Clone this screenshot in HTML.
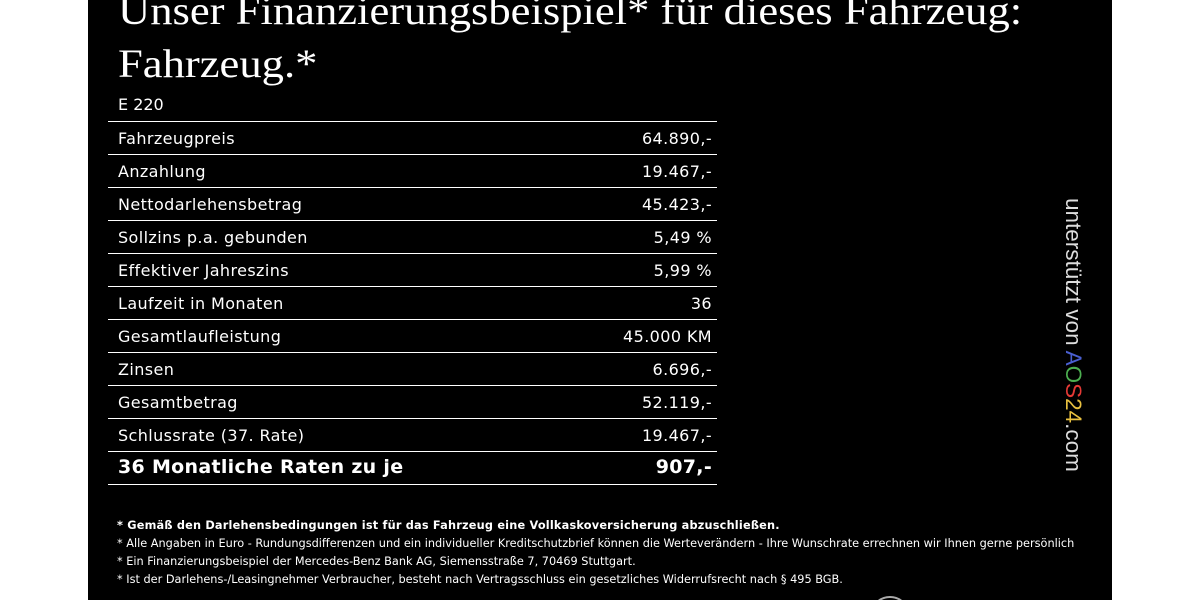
<!DOCTYPE html>
<html><head><meta charset="utf-8"><style>
html,body{margin:0;padding:0;width:1200px;height:600px;overflow:hidden;background:#fff;}
#p{position:absolute;left:88px;top:0;width:1024px;height:600px;background:#000;color:#fff;overflow:hidden;}
.t{position:absolute;left:30px;font-family:"Liberation Serif","DejaVu Serif",serif;font-size:40px;white-space:nowrap;line-height:1;transform-origin:0 0;transform:scaleX(1.115);}
.row{position:absolute;left:20px;width:609px;height:33px;border-top:1px solid #fff;font-family:"DejaVu Sans",sans-serif;font-size:16px;letter-spacing:0.4px;}
.row span{position:absolute;top:7px;left:10px;}
.row b{position:absolute;top:7px;right:5px;font-weight:normal;}
.bold{font-weight:bold;font-size:19px;letter-spacing:0.3px;border-bottom:1px solid #fff;}
.bold span,.bold b{font-weight:bold;top:4px;}
.fn{position:absolute;left:29px;font-family:"DejaVu Sans",sans-serif;font-size:11.3px;white-space:nowrap;}
#v{position:absolute;left:998px;top:198px;transform-origin:0 0;transform:rotate(90deg);font-family:"Liberation Sans",sans-serif;font-size:22.5px;white-space:nowrap;color:#ddd;}
</style></head><body><div id="p">
<div class="t" style="top:-9px">Unser Finanzierungsbeispiel* für dieses Fahrzeug:</div>
<div class="t" style="top:44px">Fahrzeug.*</div>
<div style="position:absolute;left:30px;top:95px;font-family:'DejaVu Sans',sans-serif;font-size:16px;">E 220</div>
<div class="row" style="top:121px"><span>Fahrzeugpreis</span><b>64.890,-</b></div>
<div class="row" style="top:154px"><span>Anzahlung</span><b>19.467,-</b></div>
<div class="row" style="top:187px"><span>Nettodarlehensbetrag</span><b>45.423,-</b></div>
<div class="row" style="top:220px"><span>Sollzins p.a. gebunden</span><b>5,49 %</b></div>
<div class="row" style="top:253px"><span>Effektiver Jahreszins</span><b>5,99 %</b></div>
<div class="row" style="top:286px"><span>Laufzeit in Monaten</span><b>36</b></div>
<div class="row" style="top:319px"><span>Gesamtlaufleistung</span><b>45.000 KM</b></div>
<div class="row" style="top:352px"><span>Zinsen</span><b>6.696,-</b></div>
<div class="row" style="top:385px"><span>Gesamtbetrag</span><b>52.119,-</b></div>
<div class="row" style="top:418px"><span>Schlussrate (37. Rate)</span><b>19.467,-</b></div>
<div class="row bold" style="top:451px;height:32px"><span>36 Monatliche Raten zu je</span><b>907,-</b></div>
<div class="fn" style="top:519px;font-weight:bold;font-size:11.3px;letter-spacing:0.2px">* Gemäß den Darlehensbedingungen ist für das Fahrzeug eine Vollkaskoversicherung abzuschließen.</div>
<div class="fn" style="top:537px">* Alle Angaben in Euro - Rundungsdifferenzen und ein individueller Kreditschutzbrief können die Werteverändern - Ihre Wunschrate errechnen wir Ihnen gerne persönlich</div>
<div class="fn" style="top:555px">* Ein Finanzierungsbeispiel der Mercedes-Benz Bank AG, Siemensstraße 7, 70469 Stuttgart.</div>
<div class="fn" style="top:573px">* Ist der Darlehens-/Leasingnehmer Verbraucher, besteht nach Vertragsschluss ein gesetzliches Widerrufsrecht nach § 495 BGB.</div>
<div id="v">unterstützt von <span style="color:#4a5fd0">A</span><span style="color:#4caf50">O</span><span style="color:#e53935">S</span><span style="color:#e8c040">24</span>.com</div>
<div style="position:absolute;left:782px;top:596px;width:40px;height:4px;overflow:hidden;"><div style="width:36px;height:36px;border-radius:50%;border:2px solid #aaa;"></div></div>
</div></body></html>
